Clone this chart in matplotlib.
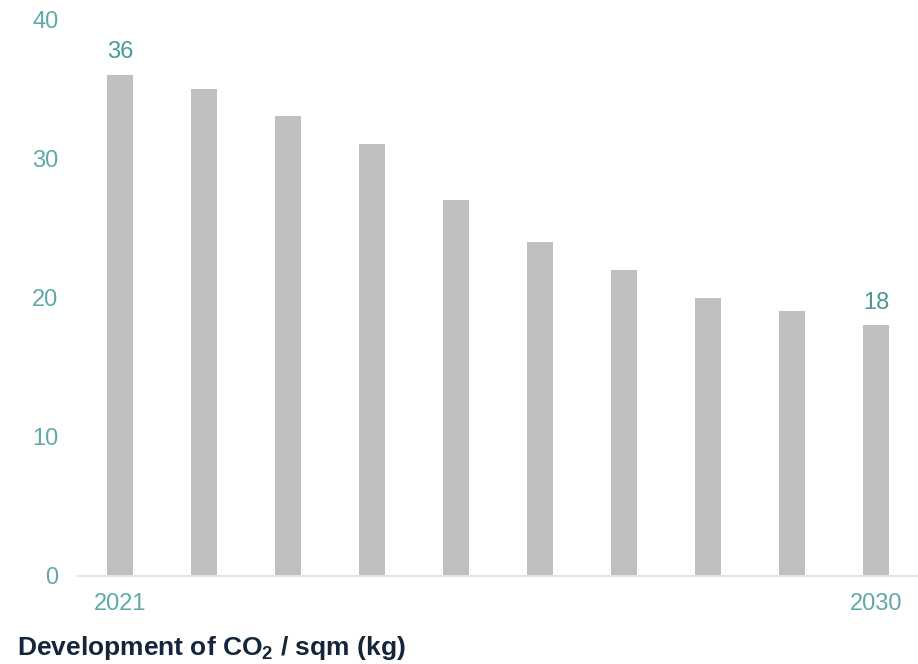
import matplotlib
matplotlib.use('Agg')
import matplotlib.pyplot as plt
import numpy as np

plt.rcParams['font.family'] = ['Liberation Sans', 'DejaVu Sans']
plt.rcParams['mathtext.fontset'] = 'custom'
plt.rcParams['mathtext.rm'] = 'Liberation Sans'
plt.rcParams['mathtext.bf'] = 'Liberation Sans:bold'

years = [2021, 2022, 2023, 2024, 2025, 2026, 2027, 2028, 2029, 2030]
co2 = [36, 35, 33, 31, 27, 24, 22, 20, 19, 18]
shown_years = ['2021', '', '', '', '', '', '', '', '', '2030']
yticks = [0, 10, 20, 30, 40]

BAR = '#bfbfbf'
TEAL = '#5fa9a9'
VALUE = '#4a9898'
NAVY = '#14263a'

fig = plt.figure(figsize=(9.18, 6.64), dpi=100)
ax = fig.add_axes([78 / 918, 1 - 576 / 664, 1 - 78 / 918, (576 - 19) / 664])

x = np.arange(len(years))
ax.bar(x, co2, width=0.32, color=BAR, zorder=2)

ax.set_xlim(-0.5, len(years) - 0.5)
ax.set_ylim(0, 40)
ax.set_yticks(yticks)
ax.set_yticklabels([str(t) for t in yticks])
ax.set_xticks(x)
ax.set_xticklabels(shown_years)
ax.tick_params(axis='both', length=0, colors=TEAL, labelsize=17)
ax.tick_params(axis='y', pad=14)
ax.tick_params(axis='x', pad=12)

for s in ['top', 'right', 'left']:
    ax.spines[s].set_visible(False)
ax.spines['bottom'].set_color('#d5eaea')
ax.spines['bottom'].set_linewidth(1.5)

# label only the first and last year
for i in [0, len(years) - 1]:
    ax.text(x[i], co2[i] + 0.85, str(co2[i]), ha='center', va='bottom',
            color=VALUE, fontsize=17)

fig.text(17 / 918, 1 - 648 / 664, r'Development of CO$_\mathbf{2}$ / sqm (kg)',
         ha='left', va='center', fontsize=19, fontweight='bold', color=NAVY)

fig.savefig('out.png', dpi=100)
